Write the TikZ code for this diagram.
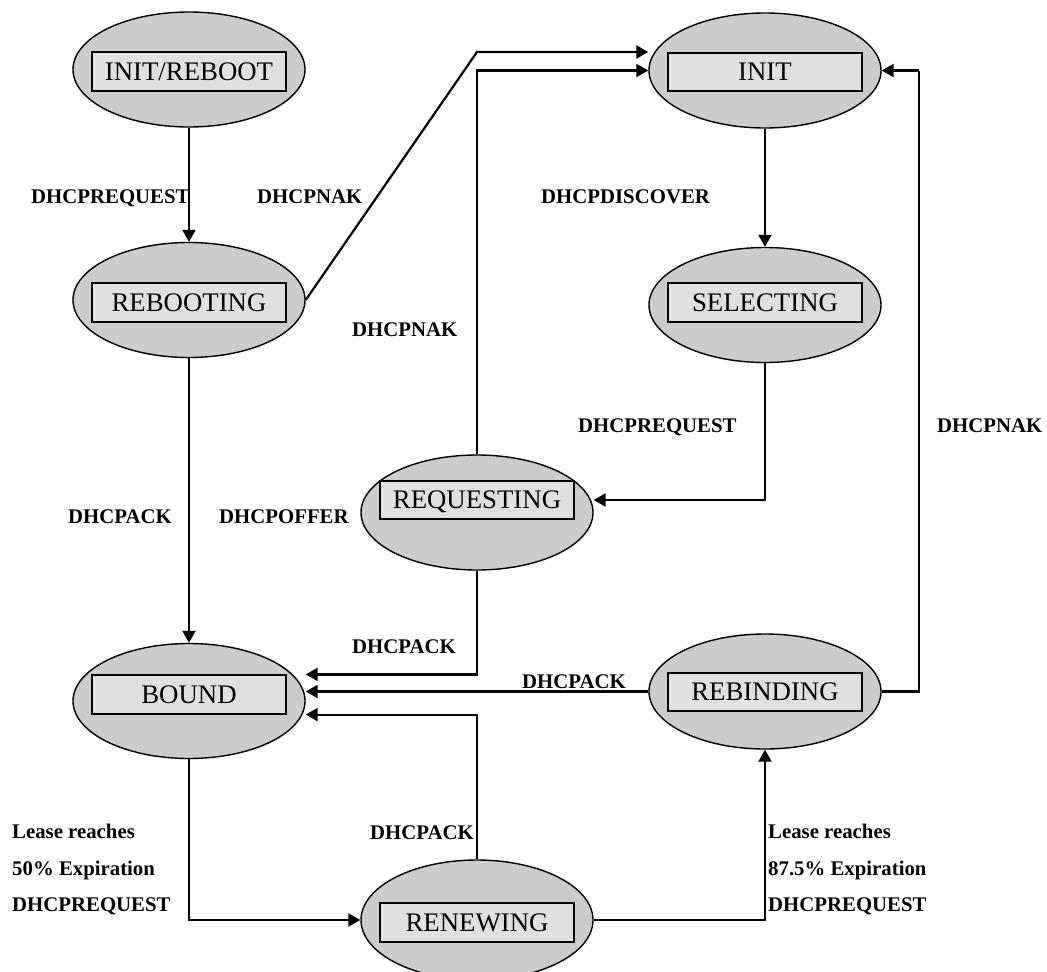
\documentclass[tikz,border=0pt]{standalone}
\usepackage{fontspec}
\setmainfont{Liberation Serif}
\usetikzlibrary{shapes.geometric,arrows.meta}

\definecolor{stateFill}{HTML}{CCCCCC}
\definecolor{boxFill}{HTML}{E0E0E0}

\tikzset{
  state/.style={ellipse, draw=black, line width=1.4pt, fill=stateFill,
    minimum width=232pt, minimum height=115pt, inner sep=0pt},
  namebox/.style={rectangle, draw=black, line width=1.7pt, fill=boxFill,
    minimum width=194pt, minimum height=38.5pt, inner sep=0pt,
    font=\fontsize{26.8}{30}\selectfont, text height=17.8pt, text depth=0pt},
  flow/.style={line width=2.2pt, -{Triangle[length=12pt,width=13pt]}},
  plain/.style={line width=2.2pt},
  msg/.style={font=\bfseries\fontsize{20.8}{24}\selectfont, inner sep=0pt, anchor=base west},
  msgblock/.style={font=\bfseries\fontsize{20.8}{36.5}\selectfont, inner sep=0pt,
    anchor=north west, align=left}
}

\begin{document}
\begin{tikzpicture}[x=1pt,y=-1pt]
\useasboundingbox (0,0) rectangle (1047,972);

% states
\node[state] (IR)  at (189,69.5) {};
\node[namebox] (IRb) at (189,71.5) {INIT/REBOOT};
\node[state] (RB)  at (189,300) {};
\node[namebox] (RBb) at (189,302.5) {REBOOTING};
\node[state] (IN)  at (765,70.5) {};
\node[namebox] (INb) at (765,72) {INIT};
\node[state] (SE)  at (765,305) {};
\node[namebox] (SEb) at (765,302.5) {SELECTING};
\node[state] (RQ)  at (477,512.5) {};
\node[namebox] (RQb) at (477,500) {REQUESTING};
\node[state] (BO)  at (189,701) {};
\node[namebox] (BOb) at (189,694.5) {BOUND};
\node[state] (RI)  at (765,691.5) {};
\node[namebox] (RIb) at (765,692) {REBINDING};
\node[state, minimum height=120pt] (RN) at (477,920) {};
\node[namebox] (RNb) at (477,922.5) {RENEWING};

% bend points
\coordinate (nakBend) at (477,52);
\coordinate (rightRail) at (919,0);

% transitions
\draw[flow] (IR.south) -- (RB.north);
\draw[flow] (RB.south) -- (BO.north);
\draw[flow] (RB.east) -- (nakBend) -- (nakBend -| IN.west);
\draw[flow] (RQ.north) |- (IN.west);
\draw[flow] (IN.south) -- (SE.north);
\draw[flow] (SE.south) |- (RQ.east |- RQb.center);
\draw[flow] (RQ.south) |- (BO.east |- BOb.north);
\draw[flow] (RI.west) -- (BO.east |- RI.west);
\draw[flow] (RN.north) |- (BO.east |- BOb.south);
\draw[plain] (RI.east) -| (rightRail |- IN.east);
\draw[flow] (rightRail |- IN.east) -- (IN.east);
\draw[flow] (BO.south) |- (RN.west);
\draw[flow] (RN.east) -| (RI.south);

% messages
\node[msg] (m1)  at (31,203)  {DHCPREQUEST};
\node[msg] (m2)  at (257,203) {DHCPNAK};
\node[msg] (m3)  at (541,203) {DHCPDISCOVER};
\node[msg] (m4)  at (352,336) {DHCPNAK};
\node[msg] (m5)  at (578,432) {DHCPREQUEST};
\node[msg] (m6)  at (937,432) {DHCPNAK};
\node[msg] (m7)  at (68,523)  {DHCPACK};
\node[msg] (m8)  at (219,523) {DHCPOFFER};
\node[msg] (m9)  at (352,653) {DHCPACK};
\node[msg] (m10) at (522,688) {DHCPACK};
\node[msg] (m11) at (370,839) {DHCPACK};
\node[msgblock] (m12) at (12,824)  {Lease reaches\\50\% Expiration\\DHCPREQUEST};
\node[msgblock] (m13) at (768,824) {Lease reaches\\87.5\% Expiration\\DHCPREQUEST};
\end{tikzpicture}
\end{document}
